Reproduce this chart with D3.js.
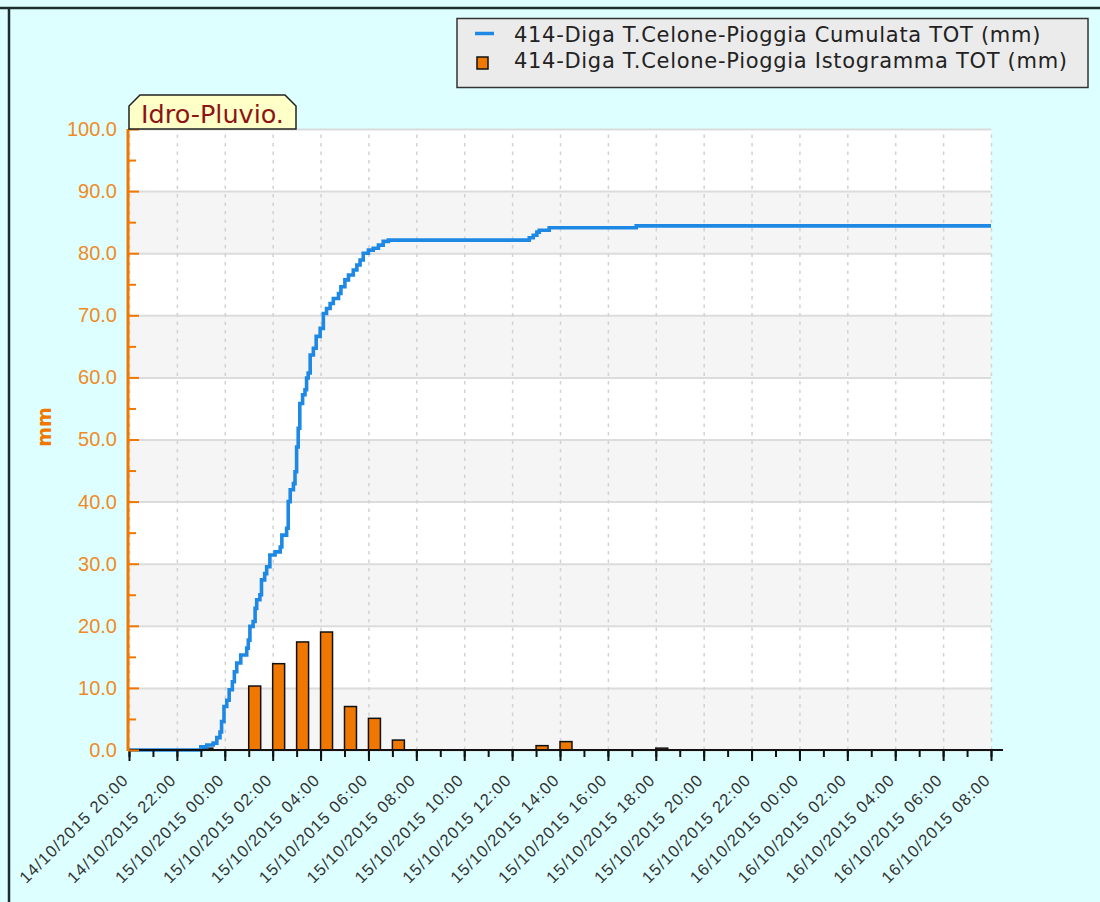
<!DOCTYPE html>
<html>
<head>
<meta charset="utf-8">
<script src="https://cdn.jsdelivr.net/npm/d3@7"></script>
<style>
  html, body { margin: 0; padding: 0; background: #ddffff; }
  svg { display: block; font-family: "DejaVu Sans", Verdana, sans-serif; }
</style>
</head>
<body>
<svg id="chart" width="1100" height="902"></svg>
<script>
// cumulative rain (step line)
const cumTimes = [
  "14/10/2015 20:00", "14/10/2015 23:00", "14/10/2015 23:15", "14/10/2015 23:31",
  "14/10/2015 23:40", "14/10/2015 23:48", "14/10/2015 23:52", "14/10/2015 23:58",
  "15/10/2015 00:05", "15/10/2015 00:11", "15/10/2015 00:19", "15/10/2015 00:24",
  "15/10/2015 00:30", "15/10/2015 00:40", "15/10/2015 00:55", "15/10/2015 00:59",
  "15/10/2015 01:03", "15/10/2015 01:11", "15/10/2015 01:16", "15/10/2015 01:20",
  "15/10/2015 01:28", "15/10/2015 01:32", "15/10/2015 01:40", "15/10/2015 01:45",
  "15/10/2015 01:53", "15/10/2015 02:06", "15/10/2015 02:19", "15/10/2015 02:23",
  "15/10/2015 02:35", "15/10/2015 02:39", "15/10/2015 02:44", "15/10/2015 02:52",
  "15/10/2015 02:56", "15/10/2015 03:00", "15/10/2015 03:04", "15/10/2015 03:08",
  "15/10/2015 03:15", "15/10/2015 03:21", "15/10/2015 03:25", "15/10/2015 03:29",
  "15/10/2015 03:34", "15/10/2015 03:42", "15/10/2015 03:49", "15/10/2015 03:59",
  "15/10/2015 04:07", "15/10/2015 04:15", "15/10/2015 04:24", "15/10/2015 04:32",
  "15/10/2015 04:45", "15/10/2015 04:51", "15/10/2015 05:01", "15/10/2015 05:10",
  "15/10/2015 05:22", "15/10/2015 05:31", "15/10/2015 05:39", "15/10/2015 05:47",
  "15/10/2015 06:00", "15/10/2015 06:12", "15/10/2015 06:25", "15/10/2015 06:37",
  "15/10/2015 06:50", "15/10/2015 12:43", "15/10/2015 12:53", "15/10/2015 13:02",
  "15/10/2015 13:08", "15/10/2015 13:33", "15/10/2015 17:11", "16/10/2015 08:00"
];
const cumValues = [
  0, 0.5, 0.8, 1.1,
  2.0, 2.9, 4.6, 7.0,
  8.0, 9.7, 11.0, 12.6,
  14.0, 15.3, 16.4, 17.7,
  19.9, 20.7, 22.8, 24.2,
  25.0, 27.4, 28.4, 29.5,
  31.4, 31.9, 32.7, 34.6,
  35.7, 40.0, 41.9, 42.9,
  44.8, 48.8, 51.8, 55.8,
  57.2, 58.0, 59.9, 60.7,
  63.6, 64.7, 66.6, 67.9,
  70.3, 71.1, 71.9, 72.7,
  73.5, 74.6, 75.7, 76.5,
  77.3, 78.1, 78.9, 80.0,
  80.5, 80.8, 81.3, 81.9,
  82.1, 82.5, 82.9, 83.4,
  83.7, 84.1, 84.4, 84.4
];

// hourly histogram
const barTimes = [
  "14/10/2015 23:00", "15/10/2015 01:00", "15/10/2015 02:00", "15/10/2015 03:00",
  "15/10/2015 04:00", "15/10/2015 05:00", "15/10/2015 06:00", "15/10/2015 07:00",
  "15/10/2015 13:00", "15/10/2015 14:00", "15/10/2015 18:00"
];
const barValues = [0.3, 10.3, 13.9, 17.4, 19.0, 7.0, 5.1, 1.6, 0.7, 1.35, 0.3];

const timeRange = ["14/10/2015 20:00", "16/10/2015 08:00"];
const yTickValues = [0, 10, 20, 30, 40, 50, 60, 70, 80, 90, 100];
const yMinorValues = [5, 15, 25, 35, 45, 55, 65, 75, 85, 95];

const legendLabels = [
  "414-Diga T.Celone-Pioggia Cumulata TOT (mm)",
  "414-Diga T.Celone-Pioggia Istogramma TOT (mm)"
];

const parseTime = d3.timeParse("%d/%m/%Y %H:%M");
const formatTime = d3.timeFormat("%d/%m/%Y %H:%M");

const cumData = cumTimes.map((t, i) => ({ t: parseTime(t), v: cumValues[i] }));
const barData = barTimes.map((t, i) => ({ t: parseTime(t), v: barValues[i] }));

const orange = "#f07800";
const blue = "#1e88e5";

const svg = d3.select("#chart");

const plot = { left: 129, right: 991, top: 129, bottom: 750 };

const x = d3.scaleTime()
  .domain(timeRange.map(parseTime))
  .range([plot.left, plot.right]);

const y = d3.scaleLinear()
  .domain([0, 100])
  .range([plot.bottom, plot.top]);

// outer frame
svg.append("rect")
  .attr("width", 1100).attr("height", 902)
  .attr("fill", "#ddffff");
svg.append("line")
  .attr("x1", 0).attr("x2", 1100).attr("y1", 8).attr("y2", 8)
  .attr("stroke", "#1e2e2e").attr("stroke-width", 2.5);
svg.append("line")
  .attr("x1", 9).attr("x2", 9).attr("y1", 8).attr("y2", 902)
  .attr("stroke", "#1e2e2e").attr("stroke-width", 2.5);

// plot background with alternating bands
const bands = yTickValues.slice(0, -1);
svg.append("g")
  .selectAll("rect")
  .data(bands)
  .join("rect")
  .attr("x", plot.left)
  .attr("width", plot.right - plot.left)
  .attr("y", d => y(d + 10))
  .attr("height", d => y(d) - y(d + 10))
  .attr("fill", d => (d / 10) % 2 === 0 ? "#f5f5f5" : "#ffffff");

// horizontal grid
svg.append("g")
  .attr("class", "y-grid")
  .attr("transform", `translate(${plot.left},0)`)
  .call(d3.axisLeft(y).tickValues(yTickValues).tickSize(-(plot.right - plot.left)).tickFormat(""))
  .call(g => g.select(".domain").remove())
  .selectAll("line")
  .attr("stroke", "#dcdcdc")
  .attr("stroke-width", 2);

// vertical dashed grid
svg.append("g")
  .attr("class", "x-grid")
  .attr("transform", `translate(0,${plot.bottom})`)
  .call(d3.axisBottom(x).ticks(d3.timeHour.every(2)).tickSize(-(plot.bottom - plot.top)).tickFormat(""))
  .call(g => g.select(".domain").remove())
  .selectAll("line")
  .attr("stroke", "#d2d2d2")
  .attr("stroke-width", 1.5)
  .attr("stroke-dasharray", "3.5,5");

// histogram bars (half hour wide, starting at the hour)
svg.append("g")
  .attr("class", "bars")
  .selectAll("rect")
  .data(barData)
  .join("rect")
  .attr("x", d => x(d.t))
  .attr("width", d => x(d3.timeMinute.offset(d.t, 30)) - x(d.t))
  .attr("y", d => y(d.v))
  .attr("height", d => y(0) - y(d.v))
  .attr("fill", orange)
  .attr("stroke", "#111")
  .attr("stroke-width", 1.5);

// cumulative step line
const line = d3.line()
  .x(d => x(d.t))
  .y(d => y(d.v))
  .curve(d3.curveStepAfter);

svg.append("path")
  .datum(cumData)
  .attr("fill", "none")
  .attr("stroke", blue)
  .attr("stroke-width", 3.6)
  .attr("d", line);

// x axis
svg.append("line")
  .attr("x1", plot.left).attr("x2", 1003)
  .attr("y1", plot.bottom).attr("y2", plot.bottom)
  .attr("stroke", "#111").attr("stroke-width", 2);

svg.append("g")
  .attr("class", "x-minor")
  .attr("transform", `translate(0,${plot.bottom})`)
  .call(d3.axisBottom(x).ticks(d3.timeHour.every(1)).tickSize(7).tickFormat(""))
  .call(g => g.select(".domain").remove())
  .selectAll("line")
  .attr("stroke", "#111")
  .attr("stroke-width", 2);

const xAxis = svg.append("g")
  .attr("class", "x-axis")
  .attr("transform", `translate(0,${plot.bottom})`)
  .call(d3.axisBottom(x).ticks(d3.timeHour.every(2)).tickSize(11).tickFormat(formatTime))
  .call(g => g.select(".domain").remove());

xAxis.selectAll("line")
  .attr("stroke", "#111")
  .attr("stroke-width", 2);

xAxis.selectAll("text")
  .attr("x", null).attr("y", null).attr("dy", null)
  .attr("transform", "translate(0,31) rotate(-45)")
  .style("text-anchor", "end")
  .style("font-size", "16.5px")
  .style("letter-spacing", "1.1px")
  .attr("fill", "#333");

// y axis
const yAxis = svg.append("g")
  .attr("class", "y-axis")
  .attr("transform", `translate(${plot.left - 1},0)`)
  .call(d3.axisLeft(y).tickValues(yTickValues).tickSize(-11).tickPadding(11).tickFormat(d3.format(".1f")))
  .call(g => g.select(".domain").remove());

yAxis.selectAll("line")
  .attr("stroke", orange)
  .attr("stroke-width", 2);

yAxis.selectAll("text")
  .attr("fill", "#f08a24")
  .style("font-size", "20px");

svg.append("g")
  .attr("transform", `translate(${plot.left - 1},0)`)
  .call(d3.axisLeft(y).tickValues(yMinorValues).tickSize(-8).tickFormat(""))
  .call(g => g.select(".domain").remove())
  .selectAll("line")
  .attr("stroke", orange)
  .attr("stroke-width", 2);

svg.append("line")
  .attr("x1", plot.left - 1).attr("x2", plot.left - 1)
  .attr("y1", plot.top).attr("y2", plot.bottom + 1)
  .attr("stroke", orange).attr("stroke-width", 3);

svg.append("text")
  .attr("transform", "translate(51,427) rotate(-90)")
  .attr("text-anchor", "middle")
  .attr("fill", orange)
  .style("font-size", "19px")
  .style("font-weight", "bold")
  .text("mm");

// "Idro-Pluvio." tab
const tab = { x0: 129, x1: 296, y0: 95, y1: 129, c: 11 };
svg.append("path")
  .attr("d", `M${tab.x0},${tab.y1} L${tab.x0},${tab.y0 + tab.c} L${tab.x0 + tab.c},${tab.y0}
    L${tab.x1 - tab.c},${tab.y0} L${tab.x1},${tab.y0 + tab.c} L${tab.x1},${tab.y1} Z`)
  .attr("fill", "#ffffc8")
  .attr("stroke", "#222")
  .attr("stroke-width", 1.5);

svg.append("text")
  .attr("x", (tab.x0 + tab.x1) / 2)
  .attr("y", 123)
  .attr("text-anchor", "middle")
  .attr("fill", "#8c1414")
  .style("font-size", "25.5px")
  .text("Idro-Pluvio.");

// legend
const legend = svg.append("g").attr("class", "legend");
legend.append("rect")
  .attr("x", 457).attr("y", 18.5)
  .attr("width", 631).attr("height", 69)
  .attr("fill", "#ebebeb")
  .attr("stroke", "#333")
  .attr("stroke-width", 1.5);

legend.append("line")
  .attr("x1", 475).attr("x2", 494)
  .attr("y1", 33.5).attr("y2", 33.5)
  .attr("stroke", blue).attr("stroke-width", 3.5);

legend.append("rect")
  .attr("x", 477).attr("y", 57)
  .attr("width", 11).attr("height", 12)
  .attr("fill", orange)
  .attr("stroke", "#111")
  .attr("stroke-width", 1.5);

legend.selectAll("text.item")
  .data(legendLabels)
  .join("text")
  .attr("class", "item")
  .attr("x", 514)
  .attr("y", (d, i) => 42 + i * 26)
  .attr("fill", "#222")
  .style("font-size", "21px")
  .style("letter-spacing", "0.7px")
  .text(d => d);
</script>
</body>
</html>
